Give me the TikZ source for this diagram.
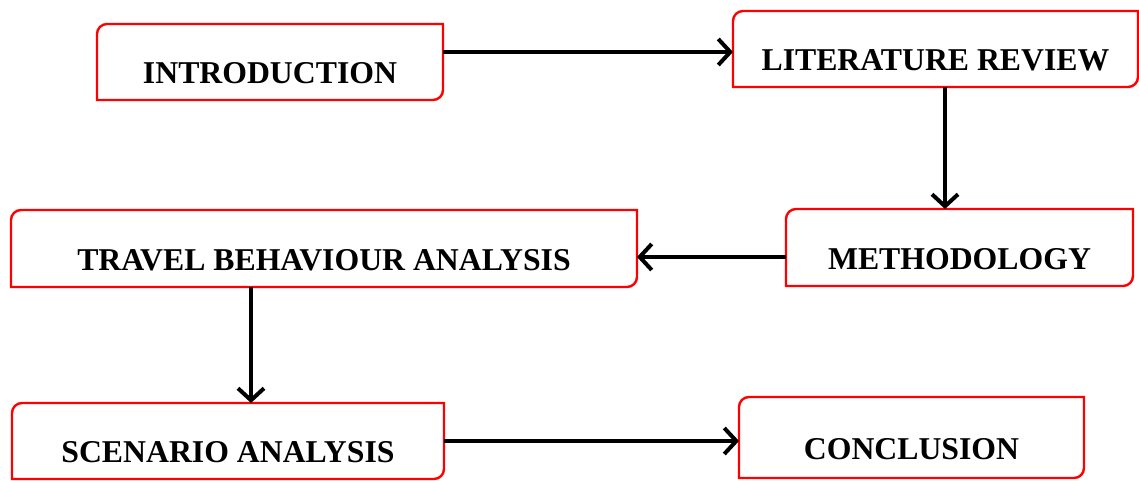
\documentclass[tikz,border=0pt]{standalone}
\usepackage{fontspec}
\setmainfont{Liberation Serif}
\usetikzlibrary{arrows.meta}
\tikzset{
  boxnode/.style={rectangle, inner sep=0pt, outer sep=0pt, text height=43pt, text depth=0pt,
    font=\bfseries\fontsize{31.75}{38}\selectfont},
  border/.style={draw=red, line width=2.4pt},
  arr/.style={draw=black, line width=4pt, -{Straight Barb[length=12pt,width=26pt,line width=4pt]}},
}
\newcommand\rcbox[1]{\draw[border] ([xshift=10pt]#1.north west) -- (#1.north east) -- ([yshift=10pt]#1.south east) arc[start angle=0,end angle=-90,radius=10pt] -- (#1.south west) -- ([yshift=-10pt]#1.north west) arc[start angle=180,end angle=90,radius=10pt] -- cycle;}
\begin{document}
\begin{tikzpicture}[x=1pt,y=1pt]
\useasboundingbox (0,0) rectangle (1139,480);
\node[boxnode, minimum width=346pt, minimum height=76pt] (intro) at (270,418) {INTRODUCTION};
\node[boxnode, minimum width=405pt, minimum height=76pt] (lit) at (935.5,431) {LITERATURE REVIEW};
\node[boxnode, minimum width=347pt, minimum height=77pt] (meth) at (959.5,232.5) {METHODOLOGY};
\node[boxnode, minimum width=626pt, minimum height=77pt] (tba) at (324,231.5) {TRAVEL BEHAVIOUR ANALYSIS};
\node[boxnode, minimum width=432pt, minimum height=76pt] (scen) at (228,39) {SCENARIO ANALYSIS};
\node[boxnode, minimum width=345pt, minimum height=81pt] (conc) at (911.5,42.5) {CONCLUSION};
\rcbox{intro}
\rcbox{lit}
\rcbox{meth}
\rcbox{tba}
\rcbox{scen}
\rcbox{conc}
\draw[arr] (intro.east |- 0,428) -- (lit.west |- 0,428);
\draw[arr] (lit.south -| 945,0) -- (meth.north -| 945,0);
\draw[arr] (meth.west |- 0,223) -- (tba.east |- 0,223);
\draw[arr] (tba.south -| 251,0) -- (scen.north -| 251,0);
\draw[arr] (scen.east |- 0,39) -- (conc.west |- 0,39);
\end{tikzpicture}
\end{document}
